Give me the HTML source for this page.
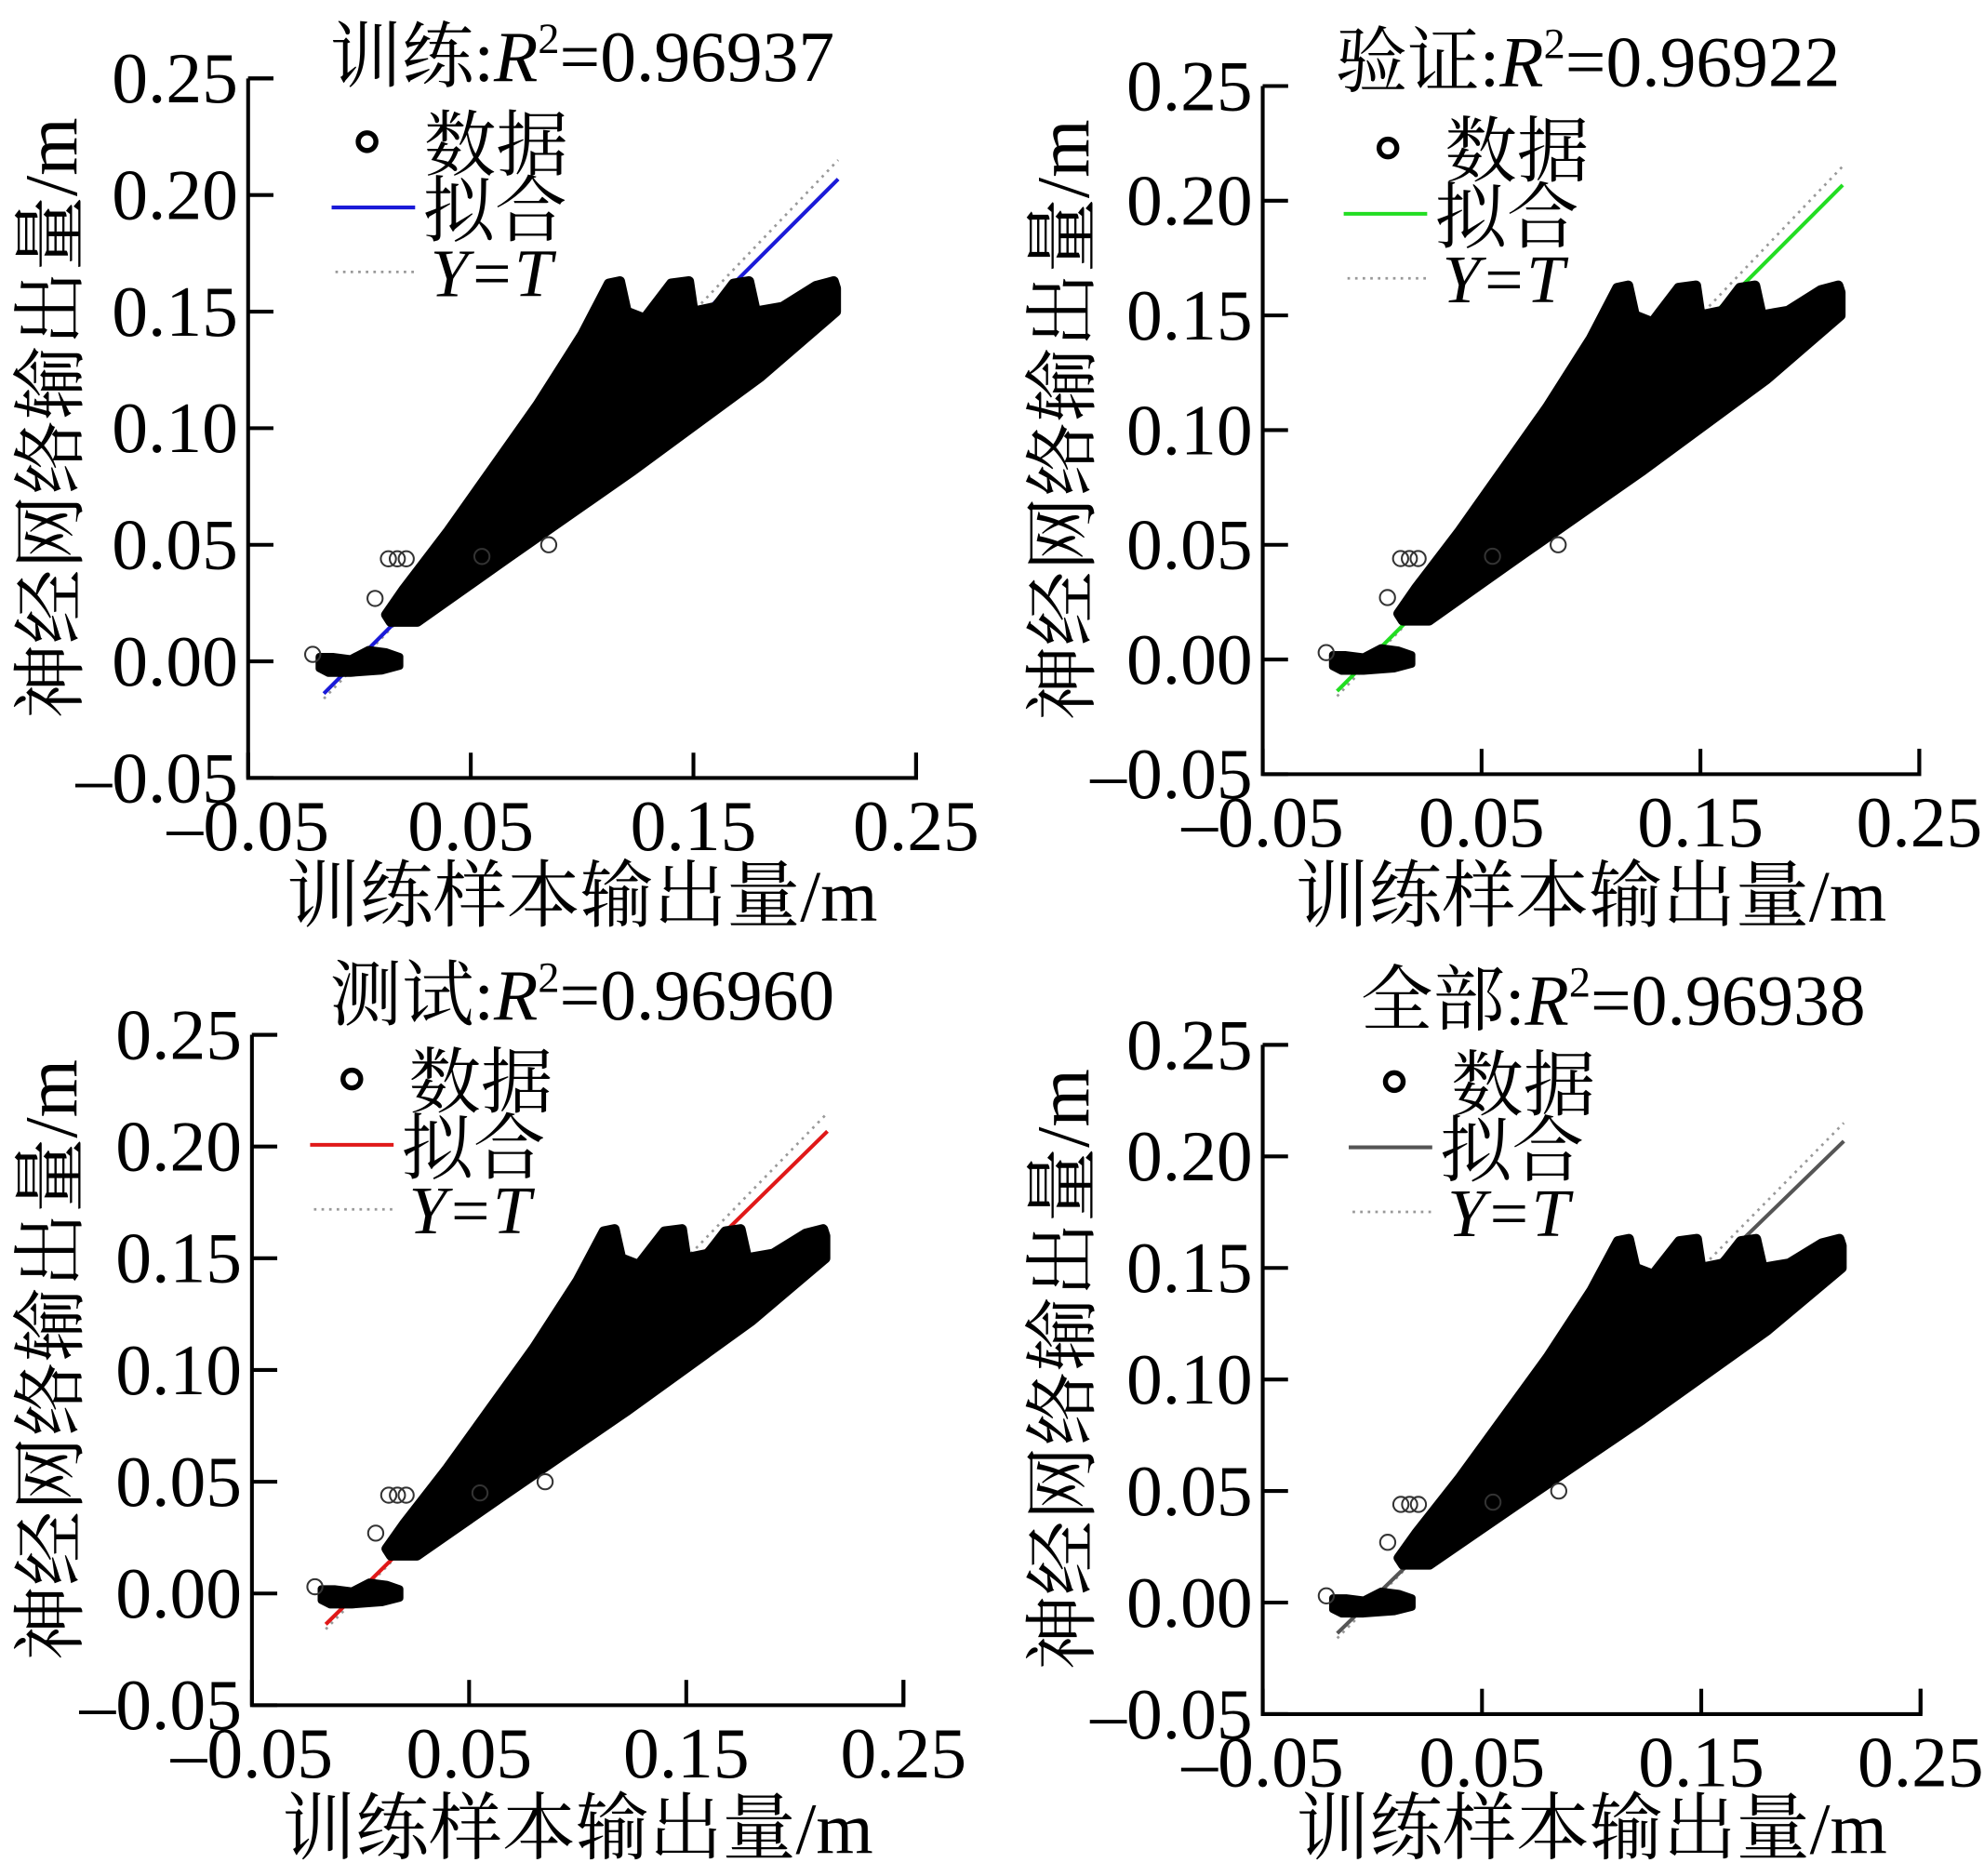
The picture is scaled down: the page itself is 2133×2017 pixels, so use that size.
<!DOCTYPE html>
<html><head><meta charset="utf-8"><style>
html,body{margin:0;padding:0;background:#fff;}
svg{display:block;}
text{font-family:"Liberation Serif","Noto Serif CJK SC","Noto Sans CJK SC",serif;fill:#000;}
</style></head><body>
<svg id="fig" width="2133" height="2017" viewBox="0 0 1568 1483" xmlns="http://www.w3.org/2000/svg"></svg>
<script>
// ---- data ----
const xTicks = [-0.05, 0.05, 0.15, 0.25];
const yTicks = [-0.05, 0.00, 0.05, 0.10, 0.15, 0.20, 0.25];
const panelTitles = ["训练", "验证", "测试", "全部"];
const r2Values = ["0.96937", "0.96922", "0.96960", "0.96938"];
const fitColors = ["#1a1ad8", "#22dd22", "#e01818", "#555555"];
const fitSlope = [0.955, 0.955, 0.955, 0.955];
const fitIntercept = [0.0015, 0.0015, 0.0015, 0.0015];
const fitRange = [-0.016, 0.215];
const cloudX = [0.012,0.02,0.04,0.06,0.08,0.10,0.112,0.117,0.12,0.128,0.14,0.148,0.15,0.16,0.168,0.175,0.178,0.19,0.205,0.213,0.214,0.214,0.18,0.123,0.066,0.026,0.014];
const cloudY = [0.020,0.031,0.056,0.083,0.110,0.140,0.162,0.163,0.150,0.147,0.162,0.163,0.150,0.152,0.162,0.163,0.150,0.152,0.161,0.163,0.160,0.150,0.122,0.082,0.044,0.017,0.017];
const zeroX = [-0.018,-0.012,-0.004,0.004,0.012,0.018,0.018,0.010,-0.004,-0.014,-0.018];
const zeroY = [0.002,0.002,0.001,0.005,0.004,0.002,-0.002,-0.004,-0.005,-0.005,-0.003];
const outX = [0.013,0.017,0.021,-0.021,0.007,0.055,0.085];
const outY = [0.044,0.044,0.044,0.003,0.027,0.045,0.050];
// ---- layout ----
const panels = [
 {x0:196,x1:724,yTop:62,yBot:615,tx:460,ty:64,ylx:40,xly:728,leg:[262,290,112]},
 {x0:998,x1:1517,yTop:68,yBot:612,tx:1255,ty:68,ylx:840,xly:728,leg:[1062,1097,117]},
 {x0:199,x1:714,yTop:818,yBot:1348,tx:460,ty:806,ylx:40,xly:1465,leg:[245,278,853]},
 {x0:998,x1:1518,yTop:826,yBot:1355,tx:1275,ty:810,ylx:840,xly:1465,leg:[1066,1102,855]}
];
const NS="http://www.w3.org/2000/svg";
const svg=document.getElementById('fig');
function mk(tag,attrs,parent){const e=document.createElementNS(NS,tag);for(const k in attrs)e.setAttribute(k,attrs[k]);(parent||svg).appendChild(e);return e;}
panels.forEach((p,i)=>{
 const g=mk('g',{});
 
 
 const sx=v=>p.x0+(v+0.05)/0.30*(p.x1-p.x0);
 const sy=v=>p.yBot-(v+0.05)/0.30*(p.yBot-p.yTop);
 const yt=mk('line',{x1:sx(fitRange[0]),y1:sy(fitRange[0]),x2:sx(fitRange[1]),y2:sy(fitRange[1]),stroke:'#999','stroke-width':2,'stroke-dasharray':'2,4'},g);
 
 
 const f=mk('line',{x1:sx(fitRange[0]),y1:sy(fitSlope[i]*fitRange[0]+fitIntercept[i]),x2:sx(fitRange[1]),y2:sy(fitSlope[i]*fitRange[1]+fitIntercept[i]),stroke:fitColors[i],'stroke-width':3},g);
 
 
 const pts=cloudX.map((x,k)=>sx(x)+','+sy(cloudY[k])).join(' ');
 const c=mk('polygon',{points:pts,fill:'#000',stroke:'#000','stroke-width':8,'stroke-linejoin':'round'},g);
 
 
 const zp=zeroX.map((x,k)=>sx(x)+','+sy(zeroY[k])).join(' ');
 const z=mk('polygon',{points:zp,fill:'#000',stroke:'#000','stroke-width':6,'stroke-linejoin':'round'},g);
 
 
 outX.forEach((x,k)=>{
  const o=mk('circle',{cx:sx(x),cy:sy(outY[k]),r:6,fill:'none',stroke:'#333','stroke-width':1.5},g);
  
  
 });
 const ax=mk('path',{d:`M${p.x0},${p.yTop}H${p.x0+20}M${p.x0},${p.yTop}V${p.yBot}H${p.x1}V${p.yBot-20}`,fill:'none',stroke:'#000','stroke-width':3},g);
 
 
 yTicks.forEach(v=>{
  const y=sy(v);
  mk('line',{x1:p.x0,y1:y,x2:p.x0+20,y2:y,stroke:'#000','stroke-width':3},g);
  const t=mk('text',{x:p.x0-8,y:y+19,'text-anchor':'end','font-size':57},g);
  t.textContent=(v<0?'–':'')+Math.abs(v).toFixed(2);
  
  
 });
 xTicks.forEach(v=>{
  const x=sx(v);
  mk('line',{x1:x,y1:p.yBot,x2:x,y2:p.yBot-20,stroke:'#000','stroke-width':3},g);
  const t=mk('text',{x:x,y:p.yBot+57,'text-anchor':'middle','font-size':57},g);
  t.textContent=(v<0?'–':'')+Math.abs(v).toFixed(2);
  
  
 });
 const tt=mk('text',{x:p.tx,y:p.ty,'text-anchor':'middle','font-size':57},g);
 tt.innerHTML=panelTitles[i]+':<tspan font-style="italic">R</tspan><tspan font-size="34" dy="-22">2</tspan><tspan dy="22">=</tspan>'+r2Values[i];
 
 
 const xl=mk('text',{x:(p.x0+p.x1)/2,y:p.xly,'text-anchor':'middle','font-size':58},g);
 xl.textContent='训练样本输出量/m';
 
 
 const yc=(p.yTop+p.yBot)/2-8;
 const yl=mk('text',{x:p.ylx+20,y:yc,'text-anchor':'middle','font-size':59,transform:`rotate(-90 ${p.ylx+20} ${yc})`},g);
 yl.textContent='神经网络输出量/m';
 
 
 const [lx,cx,ly]=p.leg;
 const lg=mk('g',{},g);
 
 
 mk('circle',{cx:cx,cy:ly,r:7,fill:'none',stroke:'#000','stroke-width':4},lg);
 const l1=mk('text',{x:cx+45,y:ly+22,'font-size':57},lg);l1.textContent='数据';
 
 
 mk('line',{x1:lx,y1:ly+52,x2:lx+66,y2:ly+52,stroke:fitColors[i],'stroke-width':3},lg);
 const l2=mk('text',{x:lx+72,y:ly+74,'font-size':57},lg);l2.textContent='拟合';
 
 
 mk('line',{x1:lx+3,y1:ly+103,x2:lx+66,y2:ly+103,stroke:'#999','stroke-width':2,'stroke-dasharray':'2,4'},lg);
 const l3=mk('text',{x:lx+78,y:ly+122,'font-size':54,'font-style':'italic'},lg);l3.textContent='Y=T';
 
 
});
</script>
</body></html>
